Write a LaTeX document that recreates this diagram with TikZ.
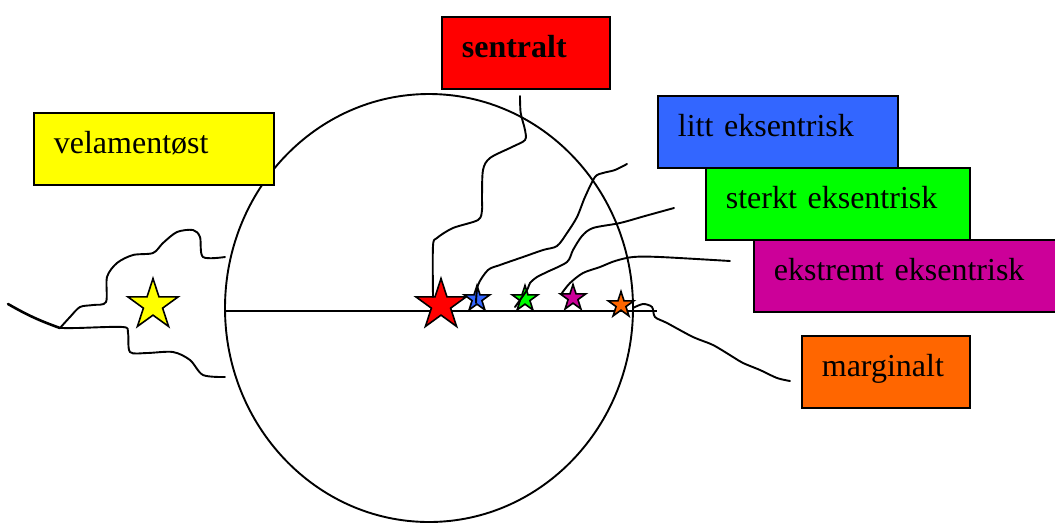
\documentclass[tikz,border=0pt]{standalone}
\usepackage{fontspec}
\setmainfont{Liberation Serif}
\usetikzlibrary{shapes.geometric}
\definecolor{cblue}{HTML}{3366FF}
\definecolor{cgreen}{HTML}{00FF00}
\definecolor{cmag}{HTML}{CC0099}
\definecolor{corange}{HTML}{FF6600}
\definecolor{cyel}{HTML}{FFFF00}
\definecolor{cred}{HTML}{FF0000}
\begin{document}
\begin{tikzpicture}[x=1pt,y=-1pt,
  box/.style={draw=black, line width=1.7pt, rectangle, inner sep=0pt, anchor=north west,
    text height=41pt, text depth=31pt, align=left, font=\fontsize{32}{38}\selectfont},
  vstar/.style={star, star points=5, star point ratio=2.618, draw=black, line width=1.6pt, inner sep=0pt},
  vessel/.style={line width=1.9pt, line cap=round, line join=round}]
\useasboundingbox (0,0) rectangle (1055,523);

% placenta
\draw[line width=1.9pt] (429,308) ellipse [x radius=204pt, y radius=214pt];
\coordinate (hl) at (225,311);
\coordinate (hr) at (657,311);
\draw[line width=1.8pt] (hl) -- (hr);

% stars
\node[vstar, fill=cyel, minimum size=53pt] (syel) at (153,305) {};
\node[vstar, fill=cred, minimum size=53pt] (sred) at (441,305) {};
\node[vstar, fill=cblue, minimum size=27pt] (sblue) at (477,299) {};
\node[vstar, fill=cgreen, minimum size=27pt] (sgreen) at (525,299) {};
\node[vstar, fill=cmag, minimum size=27pt] (smag) at (573,298) {};
\node[vstar, fill=corange, minimum size=27pt] (sor) at (621,305) {};

% vessels
\coordinate (rtop) at (520,96);
\draw[vessel] plot[smooth, tension=0.5] coordinates {(rtop) (520.7,113) (525,130) (525,140) (512,147) (490,158) (483,170) (482,197) (482,210) (478,220) (453,228) (437,238) (433,246) (433,297)};
\coordinate (btop) at (627,164);
\draw[vessel] plot[smooth, tension=0.5] coordinates {(476,303) (478,285) (488,270) (500,265) (523,257) (543,250) (557,246) (567,233) (577,217) (585,197) (595,177) (603,173) (615,170) (btop)};
\coordinate (gtop) at (674,208);
\draw[vessel] plot[smooth, tension=0.5] coordinates {(515,307) (527,290) (530,283) (537,277) (547,272) (567,262) (573,250) (582,236) (593,228) (620,223) (645,216) (gtop)};
\coordinate (mtop) at (730,261);
\draw[vessel] plot[smooth, tension=0.5] coordinates {(562,293) (570,283) (583,273) (600,267) (615,261) (633,257) (660,257) (mtop)};
\coordinate (oend) at (790,381);
\draw[vessel] plot[smooth, tension=0.5] coordinates {(633,308) (643,304) (652,307) (655,317) (667,323) (693,337) (713,345) (733,357) (743,363) (760,370) (777,378) (oend)};
\coordinate (vu) at (225,257);
\coordinate (vl) at (225,377);
\coordinate (vj) at (60,328);
\coordinate (vend) at (8,304);
\draw[vessel] plot[smooth, tension=0.5] coordinates {(vu) (203,257) (200,237) (193,230) (177,232) (163,243) (153,253) (133,255) (117,263) (107,277) (106,302) (93,305) (80,307) (70,317) (vj)};
\draw[vessel] plot[smooth, tension=0.5] coordinates {(vl) (203,375) (190,360) (173,352) (147,353) (130,352) (128,333) (123,327) (77,328) (vj)};
\draw[line width=2.6pt, line cap=round] (vj) to[bend left=5] (vend);

% boxes
\node[box, fill=cyel, text width=200pt, minimum width=240pt] (vel) at (33,112) {velamentøst};
\node[box, fill=cred, text width=128pt, minimum width=168pt] (sen) at (441,16) {\bfseries sentralt};
\node[box, fill=cblue, text width=200pt, minimum width=240pt] (litt) at (657,95) {litt eksentrisk};
\node[box, fill=cgreen, text width=224pt, minimum width=264pt] (sterk) at (705,167) {sterkt eksentrisk};
\node[box, fill=cmag, text width=264pt, minimum width=304pt] (ekst) at (753,239) {ekstremt eksentrisk};
\node[box, fill=corange, text width=128pt, minimum width=168pt] (marg) at (801,335) {marginalt};
\end{tikzpicture}
\end{document}
